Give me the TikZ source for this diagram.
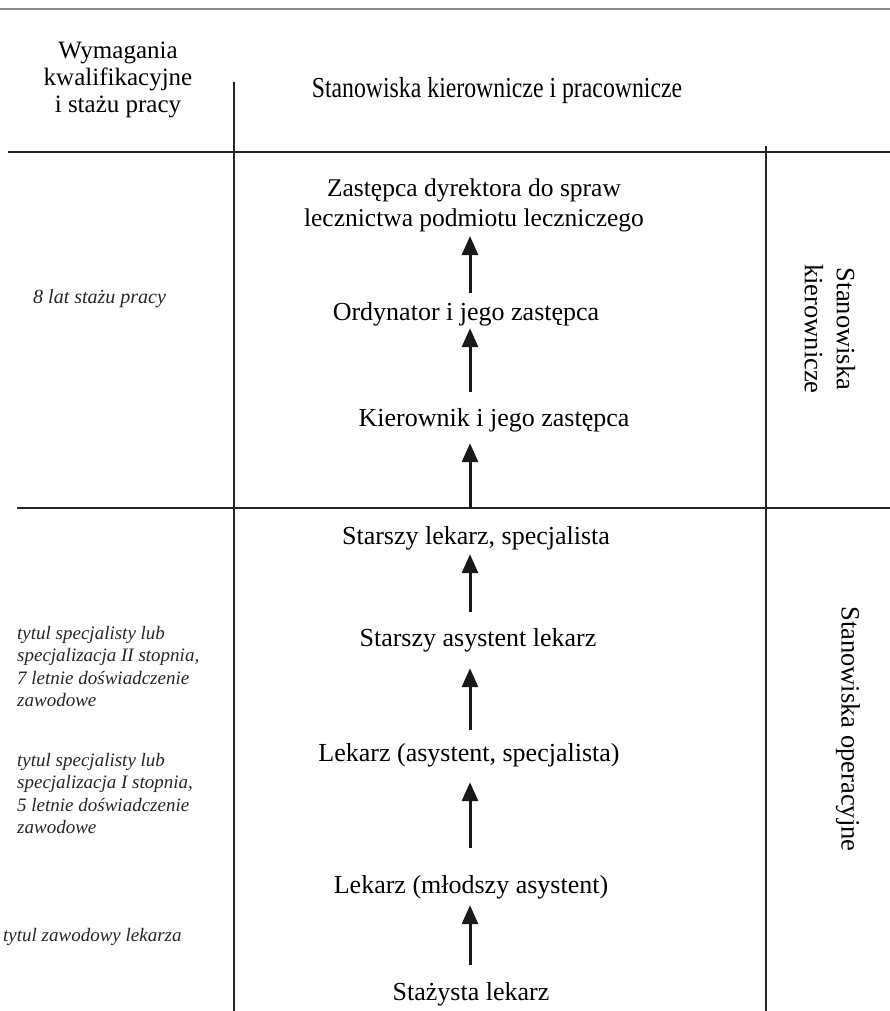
\documentclass[tikz,border=0pt]{standalone}
\usepackage{fontspec}
\setmainfont{Liberation Serif}
\newfontfamily\narrowserif[FakeStretch=0.82]{Liberation Serif}
\usetikzlibrary{arrows.meta}

\tikzset{
  rule/.style={line width=2pt, black!85},
  topline/.style={line width=2pt, black!45},
  post/.style={font=\fontsize{26}{29}\selectfont, inner sep=0pt,
    text height=17pt, text depth=5pt, anchor=base},
  head/.style={font=\fontsize{25}{27}\selectfont, inner sep=0pt, align=center},
  req/.style={font=\itshape\fontsize{19}{22.5}\selectfont, inner sep=0pt,
    anchor=north west, align=left, text=black!85},
  side/.style={font=\fontsize{26.5}{32}\selectfont, inner sep=0pt,
    align=center, rotate=-90},
  up/.style={line width=3pt, black!90, -{Triangle[length=19pt,width=16pt]}},
}

\begin{document}
\begin{tikzpicture}[x=1pt, y=-1pt]
  \useasboundingbox (0,0) rectangle (890,1011);

  % table rules
  \draw[topline] (0,9) -- (890,9);
  \draw[rule] (234,82) -- (234,1011);
  \draw[rule] (8,152) -- (890,152);
  \draw[rule] (766,146) -- (766,1011);
  \draw[rule] (17,508) -- (890,508);

  % column headings
  \node[head] (hreq) at (118,80) {Wymagania\\kwalifikacyjne\\i stażu pracy};
  \node[head, font=\narrowserif\fontsize{29}{31}\selectfont] (hpos) at (497,91)
    {Stanowiska kierownicze i pracownicze};

  % career ladder
  \node[head, anchor=south, font=\fontsize{25.5}{30}\selectfont] (zast) at (474,232)
    {Zastępca dyrektora do spraw\\lecznictwa podmiotu leczniczego};
  \node[post] (ord)   at (466,320) {Ordynator i jego zastępca};
  \node[post] (kier)  at (494,426) {Kierownik i jego zastępca};
  \node[post] (slek)  at (476,544) {Starszy lekarz, specjalista};
  \node[post] (sasys) at (478,646) {Starszy asystent lekarz};
  \node[post] (lasys) at (469,761) {Lekarz (asystent, specjalista)};
  \node[post] (lmlod) at (471,893) {Lekarz (młodszy asystent)};
  \node[post] (staz)  at (471,1000) {Stażysta lekarz};

  % promotion arrows
  \coordinate (ax) at (470,508);
  \draw[up, shorten <=10pt, shorten >=4pt] (ord.north -| ax) -- (zast.south -| ax);
  \draw[up, shorten <=17pt, shorten >=3pt] (kier.north -| ax) -- (ord.south -| ax);
  \draw[up, shorten >=12pt] (ax) -- (kier.south -| ax);
  \draw[up, shorten <=17pt, shorten >=5pt] (sasys.north -| ax) -- (slek.south -| ax);
  \draw[up, shorten <=14pt, shorten >=17pt] (lasys.north -| ax) -- (sasys.south -| ax);
  \draw[up, shorten <=28pt, shorten >=16pt] (lmlod.north -| ax) -- (lasys.south -| ax);
  \draw[up, shorten <=18pt, shorten >=7pt] (staz.north -| ax) -- (lmlod.south -| ax);

  % requirements
  \node[req, font=\itshape\fontsize{20}{22.5}\selectfont] (r8) at (33,289) {8 lat stażu pracy};
  \node[req] (rII) at (17,626) {tytul specjalisty lub\\specjalizacja II stopnia,\\7 letnie doświadczenie\\zawodowe};
  \node[req] (rI)  at (17,753) {tytul specjalisty lub\\specjalizacja I stopnia,\\5 letnie doświadczenie\\zawodowe};
  \node[req] (rz)  at (3,928) {tytul zawodowy lekarza};

  % groups
  \node[side] (gk) at (830,329) {Stanowiska\\kierownicze};
  \node[side] (go) at (848,729) {Stanowiska operacyjne};
\end{tikzpicture}
\end{document}
